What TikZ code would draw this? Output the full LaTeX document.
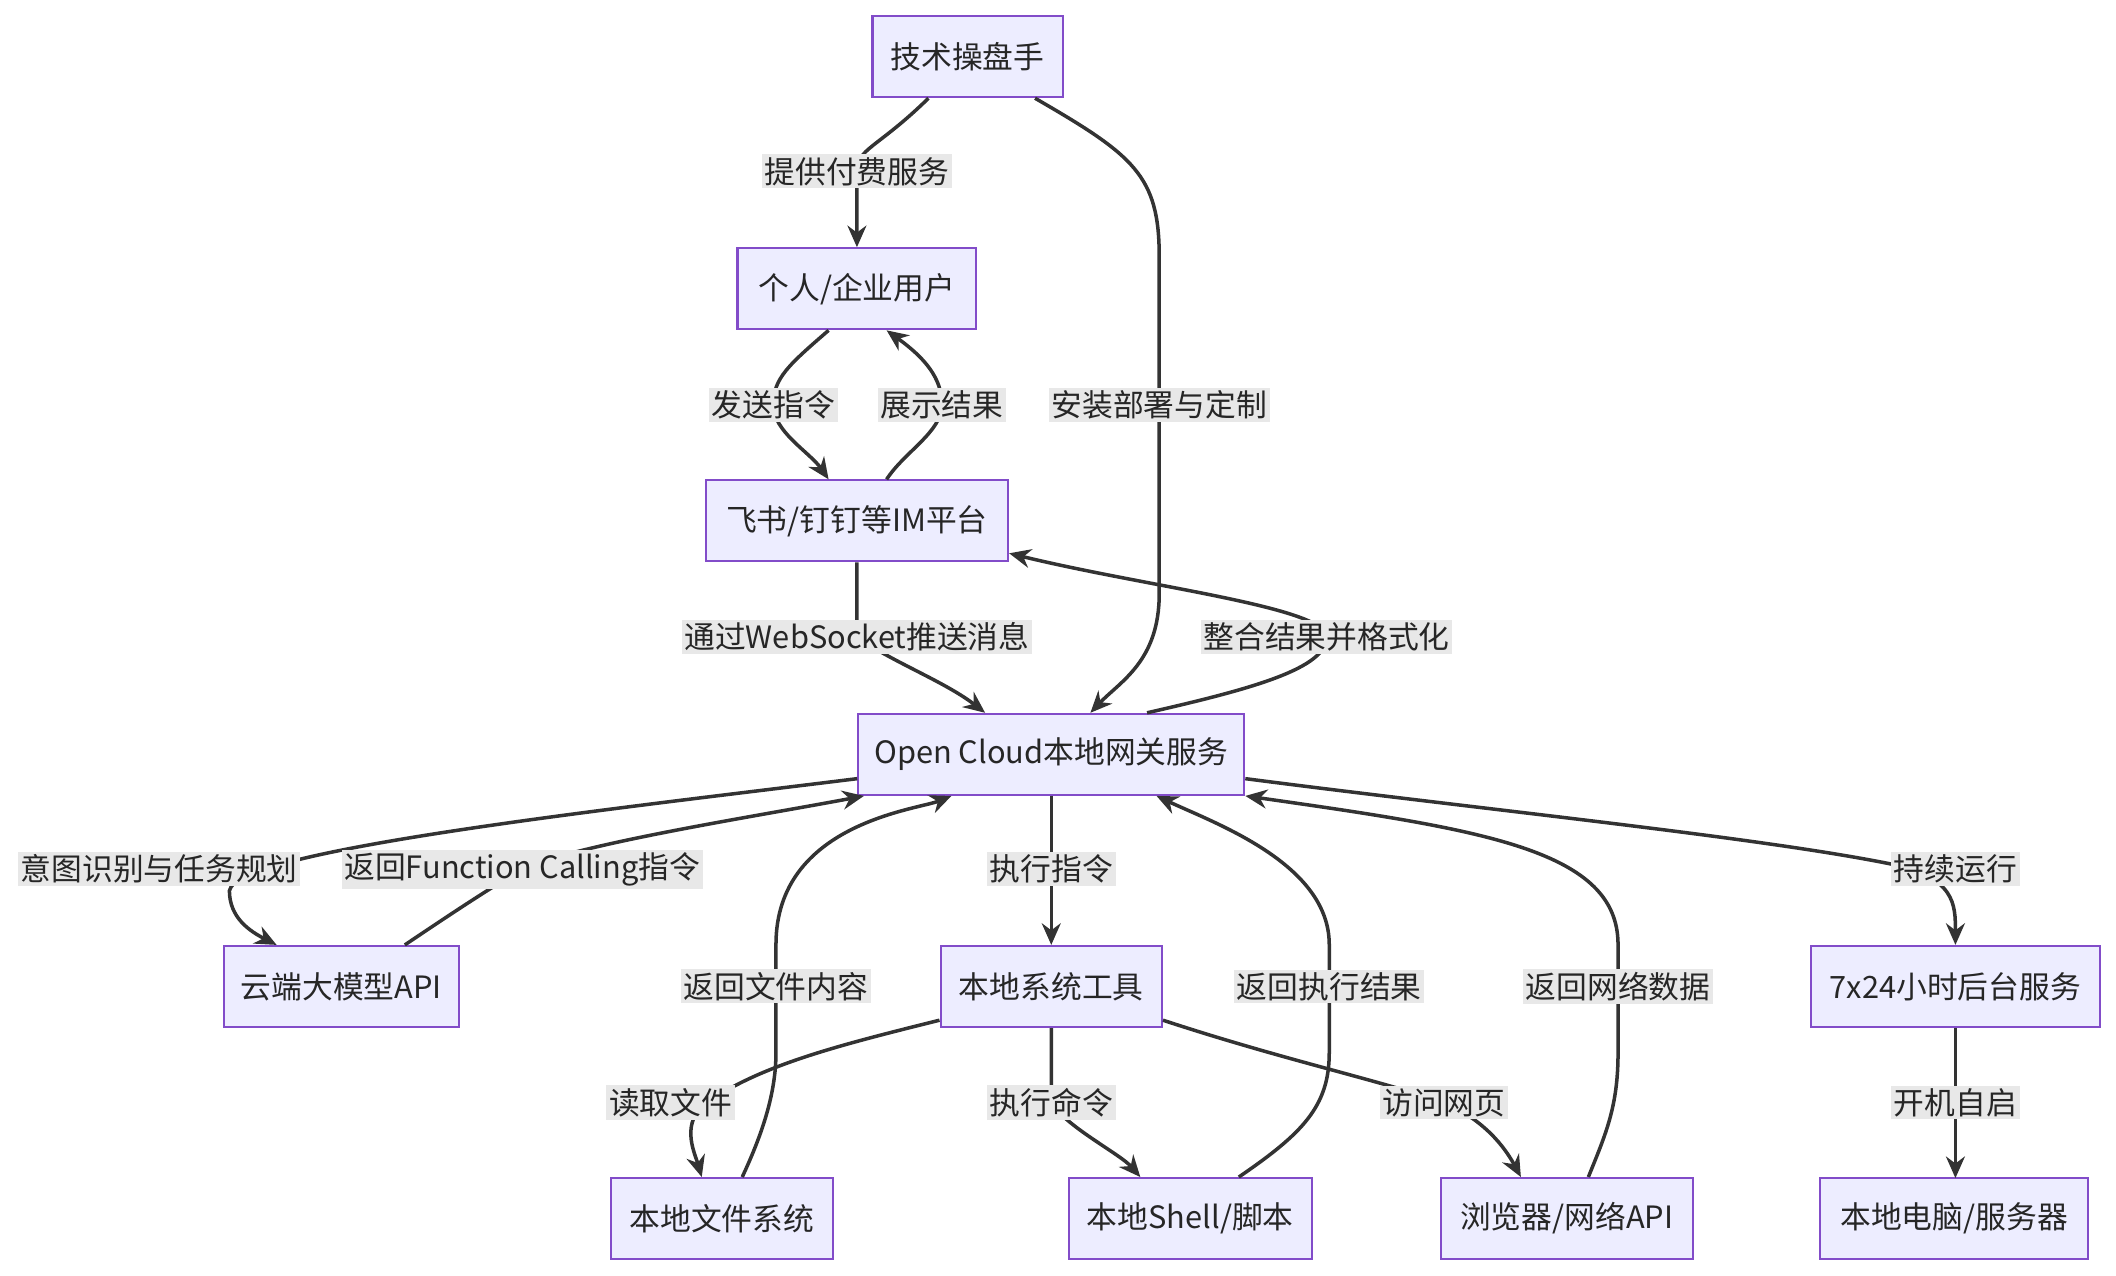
\documentclass[tikz,border=0pt]{standalone}
\usepackage{fontspec}
\setmainfont{Noto Sans CJK SC}
\usetikzlibrary{arrows.meta,calc}
\begin{document}
\begin{tikzpicture}[x=0.5pt,y=-0.5pt,
 box/.style={draw=violet!60!blue!70!white,fill=blue!7,line width=0.8pt,minimum height=30pt,inner xsep=5pt,font=\fontsize{11.4}{14}\selectfont,text=black!85},
 e/.style={draw=black!80,line width=1.3pt,-{Stealth[length=8pt,width=7pt]}},
 lbl/.style={fill=black!9,inner sep=1pt,font=\fontsize{11.4}{14}\selectfont,text=black!85}]
\useasboundingbox (0,0) rectangle (1568,945);
\node[box,minimum width=70.5pt] (t) at (717,42) {技术操盘手};
\node[box,minimum width=88.5pt] (u) at (635,214) {个人/企业用户};
\node[box,minimum width=112pt] (im) at (635,386) {飞书/钉钉等IM平台};
\node[box,minimum width=143pt] (oc) at (779,559) {Open Cloud本地网关服务};
\node[box,minimum width=87pt] (llm) at (253,731) {云端大模型API};
\node[box,minimum width=82pt] (tool) at (779,731) {本地系统工具};
\node[box,minimum width=107pt] (bg) at (1449,731) {7x24小时后台服务};
\node[box,minimum width=82.5pt] (fs) at (535,903) {本地文件系统};
\node[box,minimum width=90pt] (sh) at (882,903) {本地Shell/脚本};
\node[box,minimum width=93.5pt] (br) at (1161,903) {浏览器/网络API};
\node[box,minimum width=99.5pt] (pc) at (1448,903) {本地电脑/服务器};
% edges
\draw[e] ($(t.south)+(-29,0)$) .. controls (650,110) and (635,110) .. (635,127) node[lbl]{提供付费服务} -- (u.north);
\draw[e] ($(t.south)+(50,0)$) .. controls (840,115) and (859,130) .. (859,190) -- (859,300) node[lbl]{安装部署与定制} -- (859,440) .. controls (859,490) and (830,505) .. ($(oc.north)+(29,0)$);
\draw[e] ($(u.south)+(-21,0)$) .. controls (585,270) and (573,280) .. (573,300) node[lbl]{发送指令} .. controls (573,320) and (600,335) .. ($(im.north)+(-21,0)$);
\draw[e] ($(im.north)+(22,0)$) .. controls (670,335) and (698,320) .. (698,300) node[lbl]{展示结果} .. controls (698,280) and (685,265) .. ($(u.south)+(22,0)$);
\draw[e] (im.south) .. controls (635,450) and (635,460) .. (635,472) node[lbl]{通过WebSocket推送消息} .. controls (660,490) and (700,505) .. ($(oc.north)+(-49,0)$);
\draw[e] ($(oc.north)+(71,0)$) .. controls (930,510) and (983,495) .. (983,472) node[lbl]{整合结果并格式化} .. controls (983,450) and (850,435) .. ($(im.east)+(0,24)$);
\draw[e] ($(oc.west)+(0,18)$) .. controls (450,600) and (175,630) .. (170,660) .. controls (170,680) and (185,690) .. ($(llm.north)+(-48,0)$);
\node[lbl] at (118,644) {意图识别与任务规划};
\draw[e] ($(llm.north)+(47,0)$) .. controls (330,680) and (360,660) .. (387,644) node[lbl]{返回Function Calling指令} .. controls (430,625) and (560,605) .. ($(oc.south west)+(5,0)$);
\draw[e] (oc.south) -- (779,644) node[lbl]{执行指令} -- (tool.north);
\draw[e] ($(fs.north)+(15,0)$) .. controls (565,840) and (575,810) .. (575,780) -- (575,731) node[lbl]{返回文件内容} -- (575,700) .. controls (575,610) and (680,600) .. ($(oc.south)+(-74,0)$);
\draw[e] ($(sh.north)+(36,0)$) .. controls (965,840) and (985,820) .. (985,780) -- (985,731) node[lbl]{返回执行结果} -- (985,700) .. controls (985,640) and (900,610) .. ($(oc.south)+(78,0)$);
\draw[e] ($(br.north)+(16,0)$) .. controls (1190,840) and (1199,820) .. (1199,780) -- (1199,731) node[lbl]{返回网络数据} -- (1199,700) .. controls (1199,630) and (1100,615) .. (oc.south east);
\draw[e] ($(oc.east)+(0,18)$) .. controls (1100,600) and (1300,620) .. (1400,640) .. controls (1449,650) and (1449,670) .. (bg.north);
\node[lbl] at (1449,644) {持续运行};
\draw[e] ($(tool.west)+(0,25)$) .. controls (620,775) and (560,790) .. (520,820) .. controls (505,835) and (515,855) .. ($(fs.north)+(-15,0)$);
\node[lbl] at (497,817) {读取文件};
\draw[e] (tool.south) .. controls (779,790) and (779,805) .. (779,817) node[lbl]{执行命令} .. controls (790,835) and (830,855) .. ($(sh.north)+(-37,0)$);
\draw[e] ($(tool.east)+(0,25)$) .. controls (950,785) and (1020,800) .. (1070,817) node[lbl]{访问网页} .. controls (1100,830) and (1115,850) .. ($(br.north)+(-34,0)$);
\draw[e] (bg.south) -- (1449,817) node[lbl]{开机自启} -- (1449,873);
\end{tikzpicture}
\end{document}
